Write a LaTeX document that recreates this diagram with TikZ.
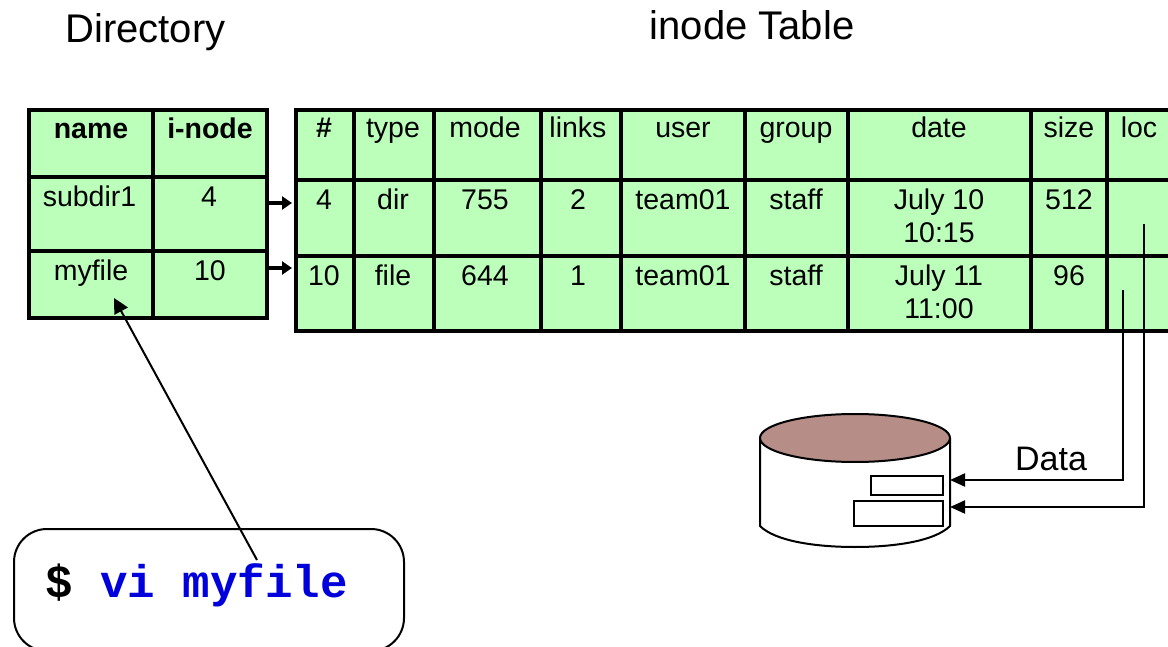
\documentclass[tikz,border=0pt]{standalone}
\usepackage{fontspec}
\setmainfont{Liberation Sans}
\setmonofont{Liberation Mono}
\usetikzlibrary{arrows.meta}
\definecolor{cellgreen}{HTML}{BBFFBB}
\definecolor{diskbrown}{HTML}{B68E87}
\definecolor{cmdblue}{HTML}{0000DD}
\tikzset{
  cellbox/.style={draw=black,fill=cellgreen,line width=4pt,anchor=north west,inner sep=0pt,outer sep=0pt},
  celltext/.style={anchor=base,inner sep=0pt,font=\fontsize{28.5}{33}\selectfont},
  headbold/.style={celltext,font=\fontsize{28.5}{33}\selectfont\bfseries},
  datetext/.style={anchor=center,align=center,inner sep=0pt,font=\fontsize{28.5}{33}\selectfont},
  titletext/.style={anchor=base,inner sep=0pt,font=\fontsize{40}{44}\selectfont},
  fatarrow/.style={line width=4.5pt,-{Triangle[length=10pt,width=13pt]},shorten >=0pt},
  thinarrow/.style={line width=2pt,-{Triangle[length=15pt,width=15pt]}},
  wire/.style={line width=2pt,line join=miter,-{Triangle[length=15pt,width=13pt]}},
  disk/.style={draw=black,line width=2pt},
  cmdbox/.style={draw=black,line width=2pt,rounded corners=33pt,fill=white,anchor=north west,inner sep=0pt,minimum width=390pt,minimum height=122pt}
}
\begin{document}
\begin{tikzpicture}[x=1pt,y=-1pt]
\useasboundingbox (0,0) rectangle (1168,647);
% titles
\node[titletext] (dirtitle) at (145.5,43) {Directory};
\node[titletext] (inodetitle) at (752,40) {inode Table};
% directory table
\foreach \rn/\y/\h in {0/110/67,1/177/74,2/251/67}{
  \foreach \cn/\x/\w in {a/29/124,b/153/114}{
    \node[cellbox,minimum width=\w pt,minimum height=\h pt] (d\cn\rn) at (\x,\y) {};
  }
}
% inode table
\foreach \rn/\y/\h in {0/110/70,1/180/76,2/256/75}{
  \foreach \cn/\x/\w in {a/296/58,b/354/80,c/434/107,d/541/80,e/621/124,f/745/103,g/848/183,h/1031/76,i/1107/90}{
    \node[cellbox,minimum width=\w pt,minimum height=\h pt] (t\cn\rn) at (\x,\y) {};
  }
}
% directory text
\node[headbold] (n1) at (91,139) {name};
\node[headbold] (n2) at (210,139) {i-node};
\node[celltext] (n3) at (89.5,207) {subdir1};
\node[celltext] (n4) at (209,207) {4};
\node[celltext] (n5) at (91,281) {myfile};
\node[celltext] (n6) at (210,281) {10};
% inode text
\node[headbold] (h1) at (324,138) {\#};
\foreach \n/\x/\t in {2/393/type,3/485/mode,4/578/links,5/683/user,6/796/group,7/939/date,8/1069/size,9/1139/loc}{
  \node[celltext] (h\n) at (\x,138) {\t};
}
\foreach \n/\x/\t in {1/324/4,2/393/dir,3/485/755,4/578/2,5/683/team01,6/796/staff,8/1069/512}{
  \node[celltext] (p\n) at (\x,210) {\t};
}
\node[datetext] (p7) at (939,216) {July 10\\10:15};
\foreach \n/\x/\t in {1/324/10,2/393/file,3/485/644,4/578/1,5/683/team01,6/796/staff,8/1069/96}{
  \node[celltext] (q\n) at (\x,286) {\t};
}
\node[datetext] (q7) at (939,292) {July 11\\11:00};
% row arrows
\coordinate (ra1) at (db1.east |- 0,203);
\coordinate (rb1) at (292,203);
\coordinate (ra2) at (db2.east |- 0,268);
\coordinate (rb2) at (292,268);
\draw[fatarrow] (ra1) -- (rb1);
\draw[fatarrow,line width=3.5pt] (ra2) -- (rb2);
% disk
\draw[disk,fill=white] (760,438) -- (760,526) .. controls (775,541) and (815,547) .. (855,547) .. controls (895,547) and (935,541) .. (950,526) -- (950,438);
\draw[disk,fill=diskbrown] (855,438) ellipse [x radius=95,y radius=24];
\node[disk,rectangle,inner sep=0pt,minimum width=72pt,minimum height=19pt,anchor=north west] (slot1) at (870,475) {};
\node[disk,rectangle,inner sep=0pt,minimum width=89pt,minimum height=25pt,anchor=north west] (slot2) at (853,500) {};
\coordinate (diskin1) at (950,480);
\coordinate (diskin2) at (950,507);
\coordinate (loc2) at (1123,290);
\coordinate (loc1) at (1144,224);
\draw[wire] (loc2) |- (diskin1);
\draw[wire] (loc1) |- (diskin2);
\node[anchor=base,inner sep=0pt,font=\fontsize{34}{38}\selectfont] (datalabel) at (1051,470) {Data};
% command
\node[cmdbox] (cmd) at (13,528) {};
\node[anchor=base west,inner sep=0pt,font=\fontsize{45.8}{50}\selectfont\ttfamily\bfseries] (cmdtext) at (45,597) {\$ \textcolor{cmdblue}{vi myfile}};
\coordinate (cmdfrom) at (257,560);
\coordinate (cmdto) at (114,298);
\draw[thinarrow] (cmdfrom) -- (cmdto);
\end{tikzpicture}
\end{document}
